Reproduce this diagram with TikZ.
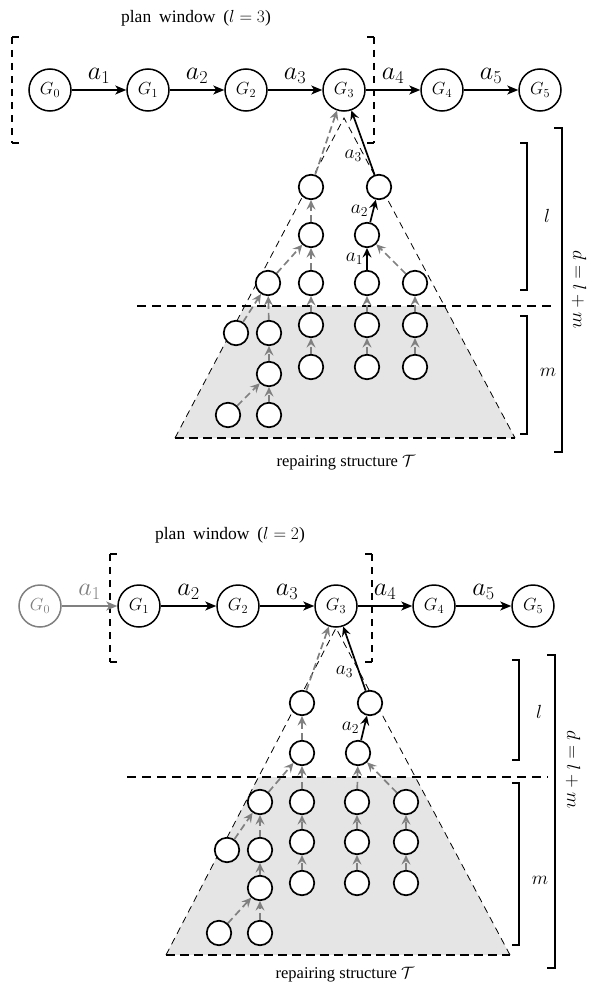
\RequirePackage{fix-cm}
\documentclass[tikz,border=0pt]{standalone}
\usepackage{fontspec}
\setmainfont{Liberation Serif}
\usetikzlibrary{arrows.meta,calc}
\definecolor{edgegray}{gray}{0.5}
\definecolor{regiongray}{gray}{0.9}
\begin{document}
\begin{tikzpicture}[x=1pt,y=-1pt,
  gnode/.style={circle,draw,line width=1.5pt,minimum size=42pt,inner sep=0pt,font=\fontsize{17.5}{20}\selectfont},
  tnode/.style={circle,draw,fill=white,line width=1.7pt,minimum size=24.5pt,inner sep=0pt},
  chain/.style={line width=1.5pt,-{Stealth[length=11pt,width=9pt,inset=3pt]}},
  elabel/.style={font=\fontsize{26}{30}\selectfont,inner sep=1pt,above=5pt},
  tlabel/.style={font=\fontsize{19.5}{22}\selectfont,inner sep=1pt},
  gedge/.style={draw=edgegray,line width=1.7pt,dash pattern=on 7pt off 4pt,-{Stealth[length=9.5pt,width=9pt,inset=3.5pt]}},
  bedge/.style={draw=black,line width=1.7pt,-{Stealth[length=9.5pt,width=9pt,inset=3.5pt]}},
  window/.style={line width=1.5pt,dash pattern=on 7pt off 6pt},
  tick/.style={line width=1.5pt},
  span/.style={line width=1.6pt},
  levelline/.style={line width=1.4pt,dash pattern=on 9pt off 6pt},
  outline/.style={line width=0.8pt,dash pattern=on 7pt off 5pt},
  basel/.style={line width=1.4pt,dash pattern=on 9pt off 5pt},
  title/.style={font=\fontsize{17.5}{20}\selectfont},
  spanlabel/.style={font=\fontsize{19}{22}\selectfont},
]
\useasboundingbox (0,0) rectangle (593,990);

% ================= upper panel: plan window l = 3 =================
\node[title] (titleA) at (196,18) {plan\hspace{0.45em}window\hspace{0.45em}($l=3$)};

\draw[window] (12,37) -- (12,143);
\draw[tick] (12,37) -- (19,37) (12,143) -- (19,143);
\draw[window] (374,37) -- (374,143);
\draw[tick] (374,37) -- (367,37) (374,143) -- (367,143);

\node[gnode] (aG0) at (50,90) {$G_0$};
\node[gnode] (aG1) at (148,90) {$G_1$};
\node[gnode] (aG2) at (246,90) {$G_2$};
\node[gnode] (aG3) at (344,90) {$G_3$};
\node[gnode] (aG4) at (442,90) {$G_4$};
\node[gnode] (aG5) at (540,90) {$G_5$};
\draw[chain] (aG0) -- node[elabel] {$a_1$} (aG1);
\draw[chain] (aG1) -- node[elabel] {$a_2$} (aG2);
\draw[chain] (aG2) -- node[elabel] {$a_3$} (aG3);
\draw[chain] (aG3) -- node[elabel] {$a_4$} (aG4);
\draw[chain] (aG4) -- node[elabel] {$a_5$} (aG5);

% repairing structure
\coordinate (aApex) at (344,118);
\coordinate (aBL) at (175,438);
\coordinate (aBR) at (515,438);
\begin{scope}
  \clip (aApex) -- (aBL) -- (aBR) -- cycle;
  \fill[regiongray] (100,306) rectangle (593,438);
\end{scope}
\draw[outline] (aBL) -- (aApex) -- (aBR);
\draw[basel] (aBL) -- (aBR);
\coordinate (aLineL) at (137,306);
\coordinate (aLineR) at (556,306);
\draw[levelline] (aLineL) -- (aLineR);

\node[tnode] (tA1) at (311,187) {};
\node[tnode] (tA2) at (379,187) {};
\node[tnode] (tB1) at (311,235) {};
\node[tnode] (tB2) at (367,235) {};
\node[tnode] (tC0) at (268,283) {};
\node[tnode] (tC1) at (311,283) {};
\node[tnode] (tC2) at (367,283) {};
\node[tnode] (tC3) at (415,283) {};
\node[tnode] (tDm) at (236,333) {};
\node[tnode] (tD0) at (269,333) {};
\node[tnode] (tD1) at (311,325) {};
\node[tnode] (tD2) at (367,325) {};
\node[tnode] (tD3) at (415,325) {};
\node[tnode] (tE0) at (269,374) {};
\node[tnode] (tE1) at (311,367) {};
\node[tnode] (tE2) at (367,367) {};
\node[tnode] (tE3) at (415,367) {};
\node[tnode] (tFm) at (228,415) {};
\node[tnode] (tF0) at (269,415) {};

\draw[gedge] (tF0) -- (tE0);
\draw[gedge] (tE0) -- (tD0);
\draw[gedge] (tD0) -- (tC0);
\draw[gedge] (tFm) -- (tE0);
\draw[gedge] (tDm) -- (tC0);
\draw[gedge] (tC0) -- (tB1);
\draw[gedge] (tE1) -- (tD1);
\draw[gedge] (tD1) -- (tC1);
\draw[gedge] (tC1) -- (tB1);
\draw[gedge] (tB1) -- (tA1);
\draw[gedge] (tA1) -- (aG3);
\draw[gedge] (tE2) -- (tD2);
\draw[gedge] (tD2) -- (tC2);
\draw[gedge] (tE3) -- (tD3);
\draw[gedge] (tD3) -- (tC3);
\draw[gedge] (tC3) -- (tB2);
\draw[bedge] (tC2) -- node[tlabel,left=2pt] {$a_1$} (tB2);
\draw[bedge] (tB2) -- node[tlabel,left=3pt] {$a_2$} (tA2);
\draw[bedge] (tA2) -- node[tlabel,pos=0.3,left=4pt] {$a_3$} (aG3);

\node (repA) at (346,463) {\fontsize{16.5}{19}\selectfont repairing structure $\mathcal{T}$};

% level spans
\draw[span] (520,143) -- (527,143) -- (527,290) -- (520,290);
\node[spanlabel] (lA) at (547,216) {$l$};
\draw[span] (520,316) -- (527,316) -- (527,434) -- (520,434);
\node[spanlabel] (mA) at (548,372) {$m$};
\draw[span] (554,128) -- (562,128) -- (562,452) -- (554,452);
\node[spanlabel,rotate=-90] (dA) at (579,290) {$d=l+m$};

% ================= lower panel: plan window l = 2 =================
\node[title] (titleB) at (230,535) {plan\hspace{0.45em}window\hspace{0.45em}($l=2$)};

\draw[window] (110,554) -- (110,662);
\draw[tick] (110,554) -- (117,554) (110,662) -- (117,662);
\draw[window] (372,554) -- (372,662);
\draw[tick] (372,554) -- (365,554) (372,662) -- (365,662);

\node[gnode,draw=edgegray,text=edgegray] (bG0) at (40,606) {$G_0$};
\node[gnode] (bG1) at (139,606) {$G_1$};
\node[gnode] (bG2) at (238,606) {$G_2$};
\node[gnode] (bG3) at (336,606) {$G_3$};
\node[gnode] (bG4) at (434,606) {$G_4$};
\node[gnode] (bG5) at (533,606) {$G_5$};
\draw[chain,draw=edgegray] (bG0) -- node[elabel,text=edgegray] {$a_1$} (bG1);
\draw[chain] (bG1) -- node[elabel] {$a_2$} (bG2);
\draw[chain] (bG2) -- node[elabel] {$a_3$} (bG3);
\draw[chain] (bG3) -- node[elabel] {$a_4$} (bG4);
\draw[chain] (bG4) -- node[elabel] {$a_5$} (bG5);

\coordinate (bApex) at (336,628);
\coordinate (bBL) at (166,955);
\coordinate (bBR) at (510,955);
\begin{scope}
  \clip (bApex) -- (bBL) -- (bBR) -- cycle;
  \fill[regiongray] (100,777) rectangle (593,955);
\end{scope}
\draw[outline] (bBL) -- (bApex) -- (bBR);
\draw[basel] (bBL) -- (bBR);
\coordinate (bLineL) at (127,777);
\coordinate (bLineR) at (548,777);
\draw[levelline] (bLineL) -- (bLineR);

\node[tnode] (uA1) at (302,703) {};
\node[tnode] (uA2) at (370,703) {};
\node[tnode] (uB1) at (302,753) {};
\node[tnode] (uB2) at (358,753) {};
\node[tnode] (uC0) at (260,802) {};
\node[tnode] (uC1) at (302,802) {};
\node[tnode] (uC2) at (357,802) {};
\node[tnode] (uC3) at (406,802) {};
\node[tnode] (uDm) at (227,850) {};
\node[tnode] (uD0) at (260,850) {};
\node[tnode] (uD1) at (302,842) {};
\node[tnode] (uD2) at (357,842) {};
\node[tnode] (uD3) at (406,842) {};
\node[tnode] (uE0) at (260,888) {};
\node[tnode] (uE1) at (302,883) {};
\node[tnode] (uE2) at (357,883) {};
\node[tnode] (uE3) at (406,883) {};
\node[tnode] (uFm) at (219,933) {};
\node[tnode] (uF0) at (260,933) {};

\draw[gedge] (uF0) -- (uE0);
\draw[gedge] (uE0) -- (uD0);
\draw[gedge] (uD0) -- (uC0);
\draw[gedge] (uFm) -- (uE0);
\draw[gedge] (uDm) -- (uC0);
\draw[gedge] (uC0) -- (uB1);
\draw[gedge] (uE1) -- (uD1);
\draw[gedge] (uD1) -- (uC1);
\draw[gedge] (uC1) -- (uB1);
\draw[gedge] (uB1) -- (uA1);
\draw[gedge] (uA1) -- (bG3);
\draw[gedge] (uE2) -- (uD2);
\draw[gedge] (uD2) -- (uC2);
\draw[gedge] (uC2) -- (uB2);
\draw[gedge] (uE3) -- (uD3);
\draw[gedge] (uD3) -- (uC3);
\draw[gedge] (uC3) -- (uB2);
\draw[bedge] (uB2) -- node[tlabel,left=3pt] {$a_2$} (uA2);
\draw[bedge] (uA2) -- node[tlabel,pos=0.3,left=4pt] {$a_3$} (bG3);

\node (repB) at (345,975) {\fontsize{16.5}{19}\selectfont repairing structure $\mathcal{T}$};

\draw[span] (512,660) -- (519,660) -- (519,760) -- (512,760);
\node[spanlabel] (lB) at (539,712) {$l$};
\draw[span] (512,783) -- (519,783) -- (519,945) -- (512,945);
\node[spanlabel] (mB) at (540,880) {$m$};
\draw[span] (547,655) -- (555,655) -- (555,968) -- (547,968);
\node[spanlabel,rotate=-90] (dB) at (573,770) {$d=l+m$};
\end{tikzpicture}
\end{document}
